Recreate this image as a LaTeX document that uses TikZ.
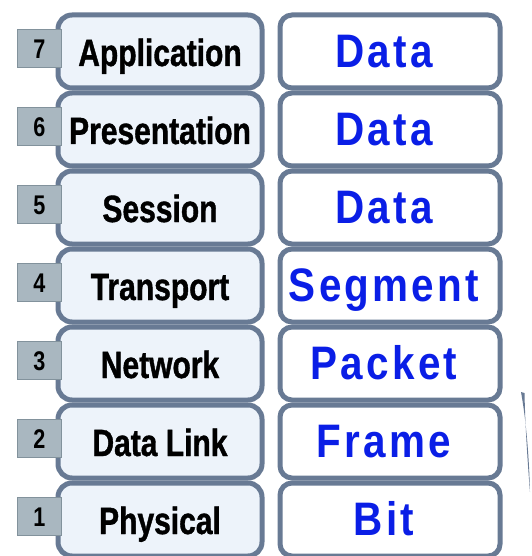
\documentclass[tikz,border=0pt]{standalone}
\usepackage{fontspec}
\setmainfont{Liberation Sans}
\newfontfamily\narrowfont[FakeStretch=0.79,FakeBold=1]{Liberation Sans}
\newfontfamily\tabfont[FakeStretch=0.8]{Liberation Sans}
\newfontfamily\spacedfont[FakeStretch=0.86,LetterSpace=7]{Liberation Sans}
\definecolor{bordercol}{RGB}{104,122,148}
\definecolor{leftfill}{RGB}{237,243,250}
\definecolor{tabfill}{RGB}{169,183,192}
\definecolor{tabdraw}{RGB}{130,146,156}
\definecolor{pdublue}{RGB}{10,30,230}
\tikzset{
  layerbox/.style={draw=bordercol, line width=5pt, fill=leftfill, rounded corners=14pt,
    minimum width=204pt, minimum height=73pt, inner sep=0pt, anchor=north west,
    text height=31pt, text depth=2pt,
    font=\narrowfont\bfseries\fontsize{38}{38}\selectfont, text=black},
  pdubox/.style={draw=bordercol, line width=5pt, fill=white, rounded corners=12pt,
    minimum width=220pt, minimum height=73pt, inner sep=0pt, anchor=north west,
    text height=36pt, text depth=4pt,
    font=\spacedfont\bfseries\fontsize{47}{47}\selectfont, text=pdublue},
  numtab/.style={draw=tabdraw, line width=1pt, fill=tabfill, minimum width=44pt,
    minimum height=38pt, inner sep=0pt, text height=20pt, text depth=0pt,
    font=\tabfont\bfseries\fontsize{27}{27}\selectfont, text=black}
}
\begin{document}
\begin{tikzpicture}[x=1pt,y=-1pt]
\useasboundingbox (0,0) rectangle (531,556);
\foreach \i/\name/\pdu [count=\k from 0] in {7/Application/Data, 6/Presentation/Data, 5/Session/Data,
    4/Transport/Segment, 3/Network/Packet, 2/Data Link/Frame, 1/Physical/Bit}{
  \node[layerbox] (lbox\i) at (55.5,12.5+78*\k) {\name};
  \node[pdubox] (pbox\i) at (277.5,12.5+78*\k) {\pdu\hspace*{12pt}};
  \node[numtab] (tab\i) at (39.5,48.5+78*\k) {\i};
}
\fill[bordercol] (521,392) .. controls (526,420) and (529,455) .. (530,492)
   .. controls (527,455) and (525,420) .. (524.5,393) -- cycle;
\end{tikzpicture}
\end{document}
